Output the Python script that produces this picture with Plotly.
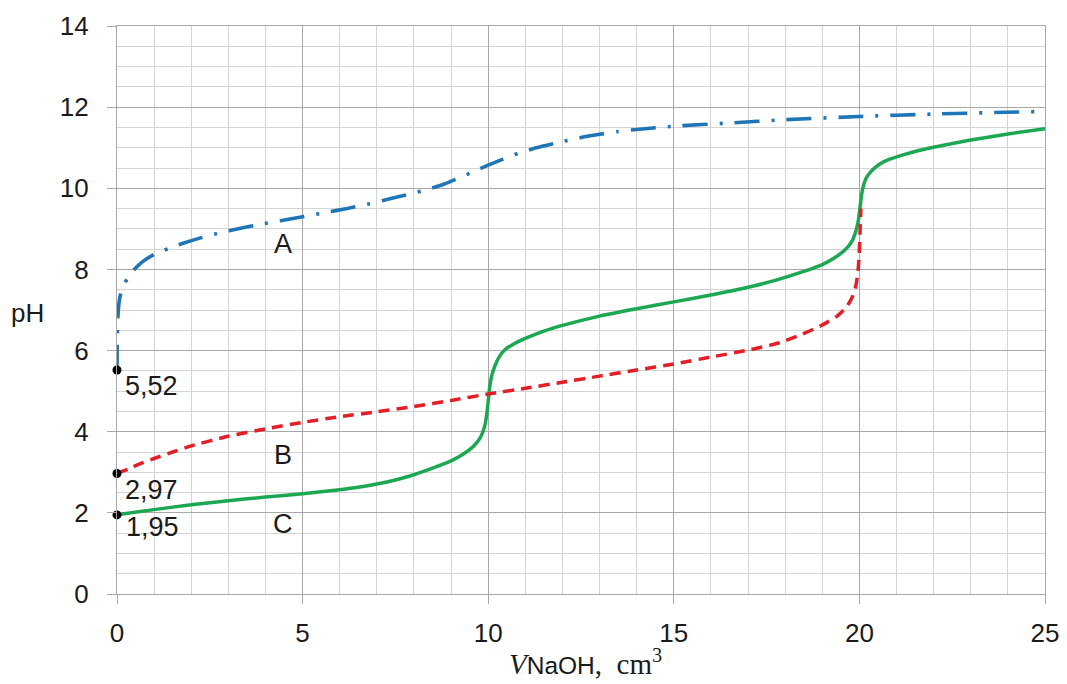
import plotly.graph_objects as go

# Curve A (dash-dot, blue)
a_x = [0, 0.005, 0.02, 0.05, 0.1, 0.18, 0.28, 0.44, 0.7, 1.0, 1.4, 1.8, 2.3, 2.8, 3.3, 3.8, 4.4, 5.0, 5.6, 6.2, 6.8, 7.3, 7.9,
       8.4, 8.8, 9.2, 9.6, 10.0, 10.4, 10.8, 11.3, 11.9, 12.5, 13.0, 13.5, 14.0, 15.0, 16.5, 18.0, 20.0, 22.0, 24.75]
a_y = [5.52, 6.2, 6.75, 7.15, 7.4, 7.6, 7.78, 7.98, 8.2, 8.37, 8.52, 8.65, 8.79, 8.91, 9.01, 9.1, 9.2, 9.3, 9.4, 9.5, 9.62, 9.73, 9.86,
       9.98, 10.1, 10.25, 10.41, 10.57, 10.72, 10.86, 11.0, 11.13, 11.25, 11.33, 11.4, 11.45, 11.53, 11.61, 11.69, 11.77, 11.83, 11.89]

# Curve B (dashed, red)
b_x = [0, 0.3, 0.6, 1.0, 1.5, 2.0, 3.0, 4.0, 5.0, 6.0, 7.0, 8.0, 9.0, 10.0, 11.0, 12.0, 13.0, 14.0, 15.0, 16.0, 17.0, 17.8,
       18.4, 19.0, 19.4, 19.65, 19.8, 19.9, 19.95, 19.98, 20.0, 20.02, 20.04]
b_y = [2.97, 3.08, 3.2, 3.34, 3.5, 3.65, 3.89, 4.07, 4.23, 4.37, 4.49, 4.62, 4.77, 4.93, 5.07, 5.22, 5.37, 5.52, 5.67, 5.84, 6.01, 6.18,
       6.38, 6.63, 6.85, 7.07, 7.3, 7.58, 7.85, 8.15, 8.5, 9.0, 9.5]

# Curve C (solid, green)
c_x = [0, 1.0, 2.0, 3.0, 4.0, 5.0, 6.0, 6.5, 7.0, 7.5, 8.0, 8.5, 9.0, 9.3, 9.58, 9.75, 9.85, 9.92, 9.97, 10.0, 10.04, 10.1, 10.18,
       10.3, 10.45, 10.7, 11.0, 11.5, 12.0, 13.0, 14.0, 15.0, 16.0, 17.0, 17.8, 18.5, 19.0, 19.3, 19.6, 19.8, 19.9, 19.97,
       20.02, 20.06, 20.12, 20.2, 20.35, 20.55, 20.8, 21.2, 21.6, 22.0, 23.0, 24.0, 25.0]
c_y = [1.95, 2.08, 2.2, 2.3, 2.39, 2.47, 2.57, 2.63, 2.71, 2.81, 2.94, 3.1, 3.28, 3.43, 3.62, 3.8, 3.98, 4.2, 4.5, 4.75, 5.1, 5.4, 5.62,
       5.85, 6.02, 6.17, 6.3, 6.48, 6.62, 6.85, 7.03, 7.2, 7.37, 7.56, 7.75, 7.95, 8.12, 8.27, 8.47, 8.7, 8.93, 9.2,
       9.55, 9.85, 10.1, 10.28, 10.45, 10.6, 10.71, 10.83, 10.93, 11.01, 11.19, 11.34, 11.47]

start_x = [0, 0, 0]
start_y = [5.52, 2.97, 1.95]
start_labels = ["5,52", "2,97", "1,95"]
curve_names = ["A", "B", "C"]
curve_label_x = [4.47, 4.47, 4.47]
curve_label_y = [8.63, 3.42, 1.73]
start_label_x = [0.15, 0.15, 0.2]
start_label_y = [5.12, 2.56, 1.64]

x_ticks = [0, 5, 10, 15, 20, 25]
y_ticks = [0, 2, 4, 6, 8, 10, 12, 14]

TXT = "#1a1a1a"
SANS = "Liberation Sans"

fig = go.Figure()
fig.add_trace(go.Scatter(x=a_x, y=a_y, mode="lines",
                         line=dict(color="#1f76b7", width=3.6, dash="25px,12px,3px,12px", shape="spline", smoothing=0.5)))
fig.add_trace(go.Scatter(x=c_x, y=c_y, mode="lines",
                         line=dict(color="#1ca852", width=3.5, shape="spline", smoothing=0.5)))
fig.add_trace(go.Scatter(x=b_x, y=b_y, mode="lines",
                         line=dict(color="#e21f26", width=3.5, dash="11px,7px", shape="spline", smoothing=0.5)))
fig.add_trace(go.Scatter(x=start_x, y=start_y, mode="markers",
                         marker=dict(color="black", size=9), cliponaxis=False))

for name, lx, ly in zip(curve_names, curve_label_x, curve_label_y):
    fig.add_annotation(x=lx, y=ly, text=name, showarrow=False,
                       font=dict(family=SANS, size=27, color=TXT))
for t, lx, ly in zip(start_labels, start_label_x, start_label_y):
    fig.add_annotation(x=lx, y=ly, text=t, showarrow=False, xanchor="left",
                       font=dict(family=SANS, size=27, color=TXT))

fig.add_annotation(xref="paper", yref="paper", x=-0.096, y=0.495, text="pH", showarrow=False,
                   xanchor="center", yanchor="middle", font=dict(family=SANS, size=26, color=TXT))
fig.add_annotation(xref="x", yref="paper", x=12.63, y=-0.12, yanchor="middle", showarrow=False,
                   text='<i>V</i><span style="font-family:Liberation Sans;font-size:24.5px">NaOH</span>,&nbsp; cm<sup>3</sup>',
                   font=dict(family="Liberation Serif", size=29, color=TXT))

common = dict(showgrid=True, gridcolor="#a8a8a8", gridwidth=1.3, zeroline=False, automargin=False,
              showline=True, mirror=True, linecolor="#a8a8a8", linewidth=1.3,
              ticks="outside", ticklen=9, tickcolor="#a8a8a8", tickwidth=1.3,
              tickfont=dict(family=SANS, size=26, color=TXT))
fig.update_xaxes(range=[0, 25], tickvals=x_ticks, ticklabelstandoff=7,
                 minor=dict(dtick=1, tick0=0, showgrid=True, gridcolor="#d4d4d4", gridwidth=1), **common)
fig.update_yaxes(range=[0, 14], tickvals=y_ticks, ticklabelstandoff=13,
                 minor=dict(dtick=0.5, tick0=0, showgrid=True, gridcolor="#d4d4d4", gridwidth=1), **common)

fig.update_layout(width=1059, height=676, showlegend=False,
                  margin=dict(l=109, r=22, t=18, b=90),
                  plot_bgcolor="white", paper_bgcolor="white")

fig.write_html("out.html")
